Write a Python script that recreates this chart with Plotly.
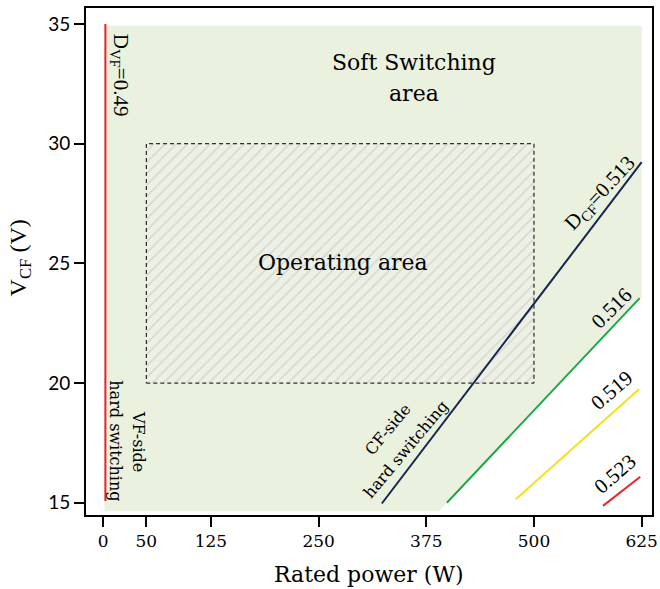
import plotly.graph_objects as go

# ---- data ----
x_ticks = [0, 50, 125, 250, 375, 500, 625]
y_ticks = [15, 20, 25, 30, 35]

# soft-switching region boundary (W, V)
soft_x = [1.5, 625, 625, 389.7, 1.5]
soft_y = [34.93, 34.93, 23.6, 14.65, 14.65]

# operating area rectangle
op_x = [50, 500, 500, 50, 50]
op_y = [20, 20, 30, 30, 20]

# D_VF = 0.49 boundary
dvf_x = [2.5, 2.5]
dvf_y = [15.08, 35.0]

# D_CF boundaries
dcf_labels = ["0.513", "0.516", "0.519", "0.523"]
dcf_x = [[323.4, 625.0], [398.9, 622.7], [478.9, 621.9], [580.1, 623.4]]
dcf_y = [[14.97, 29.23], [15.0, 23.55], [15.15, 19.74], [14.87, 16.09]]
dcf_colors = ["#15264f", "#1aa84a", "#f2e21a", "#e8262a"]

SERIF = "DejaVu Serif"
TIMES = "Liberation Serif"

fig = go.Figure()

fig.add_trace(go.Scatter(x=soft_x, y=soft_y, mode="lines", fill="toself",
                         fillcolor="#eaf1de", line=dict(width=0),
                         hoverinfo="skip", showlegend=False))

fig.add_trace(go.Scatter(x=op_x, y=op_y, mode="lines", fill="toself",
                         fillcolor="rgba(0,0,0,0)",
                         fillpattern=dict(shape="/", fgcolor="#b9b9b9",
                                          bgcolor="rgba(238,240,232,0.7)",
                                          size=8, solidity=0.18),
                         line=dict(color="black", width=1, dash="4px,3px"),
                         hoverinfo="skip", showlegend=False))

fig.add_trace(go.Scatter(x=dvf_x, y=dvf_y, mode="lines",
                         line=dict(color="#e8262a", width=2),
                         showlegend=False))

for xs, ys, c in zip(dcf_x, dcf_y, dcf_colors):
    fig.add_trace(go.Scatter(x=xs, y=ys, mode="lines",
                             line=dict(color=c, width=2), showlegend=False))

ann = []
def A(text, x, y, size, font=SERIF, angle=0, **kw):
    d = dict(text=text, x=x, y=y, xref="x", yref="y", showarrow=False,
             font=dict(family=font, size=size, color="black"),
             textangle=angle, xanchor="center", yanchor="middle")
    d.update(kw)
    ann.append(d)

A("Soft Switching", 360.6, 33.41, 22)
A("area", 360.6, 32.11, 22)
A("Operating area", 278.3, 25.05, 22)
A("D<sub>VF</sub>=0.49", 19.7, 32.87, 21, font=TIMES, angle=90)
A("hard switching", 14.5, 17.58, 16, angle=90)
A("VF-side", 41.7, 17.58, 16, angle=90)
A("CF-side", 329.9, 18.08, 16, angle=-50)
A("hard switching", 350.8, 17.24, 16, angle=-50)
A("D<sub>CF</sub>=" + dcf_labels[0], 576.3, 27.92, 21, font=TIMES, angle=-47)
A(dcf_labels[1], 590.2, 23.13, 21, font=TIMES, angle=-45)
A(dcf_labels[2], 590.5, 19.71, 21, font=TIMES, angle=-41)
A(dcf_labels[3], 593.7, 16.22, 21, font=TIMES, angle=-41)

# axis titles
ann.append(dict(text="Rated power (W)", x=0.5, y=-0.118, xref="paper", yref="paper",
                showarrow=False, font=dict(family=SERIF, size=22, color="black"),
                xanchor="center", yanchor="middle"))
ann.append(dict(text="V<sub>CF</sub> (V)", x=-0.1166, y=0.506, xref="paper", yref="paper",
                showarrow=False, font=dict(family=TIMES, size=24, color="black"),
                textangle=-90, xanchor="center", yanchor="middle"))

fig.update_layout(
    width=660, height=589,
    margin=dict(l=86, r=8, t=8, b=74),
    plot_bgcolor="white", paper_bgcolor="white",
    annotations=ann,
    xaxis=dict(range=[-20, 637], tickvals=x_ticks, ticktext=[str(v) for v in x_ticks],
               automargin=False,
               showgrid=False, zeroline=False, showline=True, linecolor="black",
               linewidth=2, mirror=True, ticks="outside", ticklen=10, tickwidth=2,
               tickcolor="black", tickfont=dict(family=SERIF, size=17, color="black")),
    yaxis=dict(range=[14.49, 35.67], tickvals=y_ticks, ticktext=[str(v) for v in y_ticks],
               automargin=False,
               showgrid=False, zeroline=False, showline=True, linecolor="black",
               linewidth=2, mirror=True, ticks="outside", ticklen=10, tickwidth=2,
               tickcolor="black", tickfont=dict(family="Lato", size=19, color="black")),
)

fig.write_html("out.html")
